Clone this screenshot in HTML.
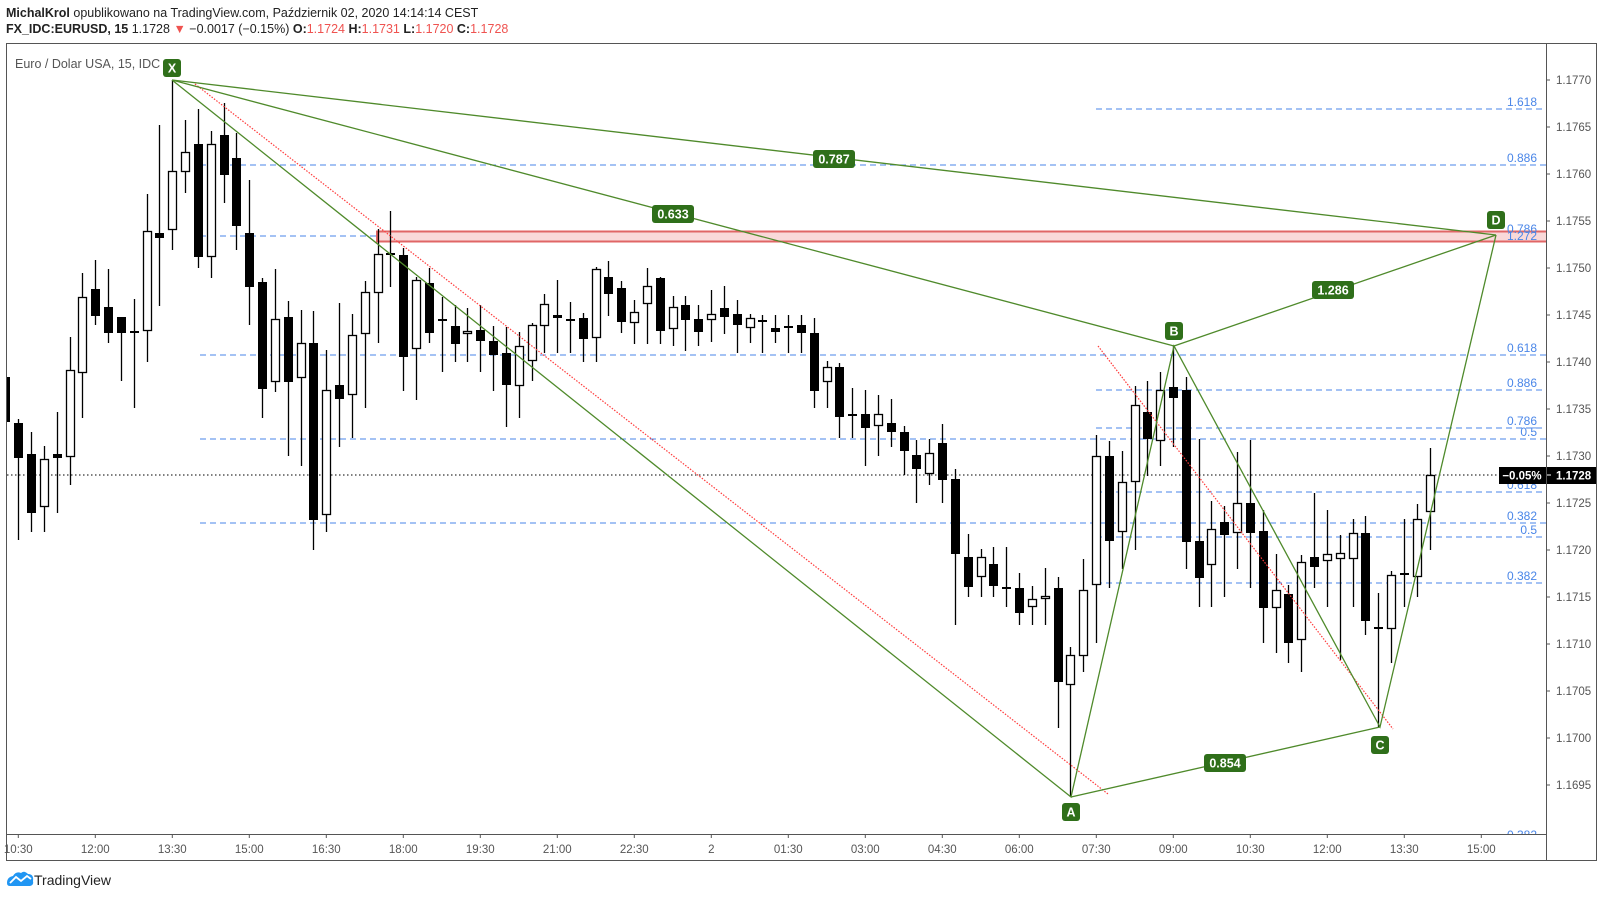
<!DOCTYPE html>
<html><head><meta charset="utf-8"><style>
body{margin:0;background:#fff;width:1603px;height:898px;overflow:hidden;font-family:"Liberation Sans",sans-serif}
svg{position:absolute;left:0;top:0}
</style></head><body>
<svg id="s" width="1603" height="898" viewBox="0 0 1603 898" xmlns="http://www.w3.org/2000/svg" font-family="Liberation Sans, sans-serif">
<defs><clipPath id="cp"><rect x="7" y="44" width="1539" height="790"/></clipPath></defs>
<text x="6" y="17" font-size="12.5" fill="#222"><tspan font-weight="bold">MichalKrol</tspan> opublikowano na TradingView.com, Październik 02, 2020 14:14:14 CEST</text>
<text x="6" y="33" font-size="12.5" fill="#222"><tspan font-weight="bold">FX_IDC:EURUSD, 15</tspan>  1.1728 <tspan fill="#ef5350">▼</tspan> −0.0017 (−0.15%) <tspan font-weight="bold">O:</tspan><tspan fill="#ef5350">1.1724</tspan> <tspan font-weight="bold">H:</tspan><tspan fill="#ef5350">1.1731</tspan> <tspan font-weight="bold">L:</tspan><tspan fill="#ef5350">1.1720</tspan> <tspan font-weight="bold">C:</tspan><tspan fill="#ef5350">1.1728</tspan></text>
<rect x="6.5" y="43.5" width="1590" height="817" fill="none" stroke="#555" stroke-width="1"/>
<line x1="1546.5" y1="43" x2="1546.5" y2="861" stroke="#555"/>
<line x1="6" y1="834.5" x2="1546" y2="834.5" stroke="#555"/>
<text x="15" y="68" font-size="12.5" fill="#555">Euro / Dolar USA, 15, IDC</text>
<g id="axis" font-size="11.5" fill="#555"></g>
<g clip-path="url(#cp)">
<line x1="7" y1="475" x2="1546" y2="475" stroke="#000" stroke-dasharray="1.5,2.5"/>
<g stroke="#4a86e8" stroke-dasharray="6,4" stroke-width="1">
<line x1="1096" y1="109" x2="1546" y2="109"/>
<line x1="200" y1="165" x2="1546" y2="165"/>
<line x1="200" y1="236" x2="1546" y2="236"/>
<line x1="1096" y1="241" x2="1546" y2="241"/>
<line x1="200" y1="355" x2="1546" y2="355"/>
<line x1="1096" y1="390" x2="1546" y2="390"/>
<line x1="1096" y1="428" x2="1546" y2="428"/>
<line x1="200" y1="439" x2="1546" y2="439"/>
<line x1="1096" y1="492" x2="1546" y2="492"/>
<line x1="200" y1="523" x2="1546" y2="523"/>
<line x1="1096" y1="537" x2="1546" y2="537"/>
<line x1="1096" y1="583" x2="1546" y2="583"/>
</g>
<rect x="377" y="231.5" width="1170" height="10" fill="#f9d9d9" stroke="#e06666" stroke-width="2"/>
<g id="candles"></g>
<g stroke="#ff3b3b" stroke-dasharray="1.5,1.5" stroke-width="1.2">
<line x1="195" y1="84" x2="1108" y2="794"/>
<line x1="1098" y1="346" x2="1393" y2="729"/>
</g>
<g stroke="#4f8a2b" stroke-width="1.3" fill="none">
<polyline points="172,80 1071,797 1174,346 1380,727 1496,235"/>
<line x1="172" y1="80" x2="1174" y2="346"/>
<line x1="172" y1="80" x2="1496" y2="235"/>
<line x1="1071" y1="797" x2="1380" y2="727"/>
<line x1="1174" y1="346" x2="1496" y2="235"/>
</g>
<g font-size="12" fill="#4a86e8" text-anchor="end">
<text x="1537" y="106">1.618</text>
<text x="1537" y="162">0.886</text>
<text x="1537" y="233">0.786</text>
<text x="1537" y="240">1.272</text>
<text x="1537" y="352">0.618</text>
<text x="1537" y="387">0.886</text>
<text x="1537" y="425">0.786</text>
<text x="1537" y="436">0.5</text>
<text x="1537" y="489">0.618</text>
<text x="1537" y="520">0.382</text>
<text x="1537" y="534">0.5</text>
<text x="1537" y="580">0.382</text>
<text x="1537" y="839">0.382</text>
</g>
</g>
<g id="lbl" font-size="12.5" font-weight="bold" fill="#fff" text-anchor="middle"></g>
<rect x="1499" y="467" width="47" height="17" fill="#000"/>
<text x="1522" y="479.5" font-size="11.5" fill="#fff" text-anchor="middle" font-weight="bold">−0.05%</text>
<rect x="1547" y="467" width="49" height="17" fill="#000"/>
<line x1="1547" y1="475" x2="1551" y2="475" stroke="#fff"/>
<text x="1556" y="479.5" font-size="11.5" fill="#fff" font-weight="bold">1.1728</text>
<g transform="translate(7,871)">
<path d="M0,12 Q0,6 6,5 Q9,0 14,2 Q17,-1 21,3 Q27,3 26,10 Q27,14 23,15 L3,15 Q0,15 0,12Z" fill="#2196f3"/>
<polyline points="3,12 9,6 14,10 20,5 24,8" fill="none" stroke="#fff" stroke-width="1.8"/>
</g>
<text x="34" y="885" font-size="14" fill="#222">TradingView</text>
</svg>
<script>
var NS="http://www.w3.org/2000/svg";
function el(t,a,p){var e=document.createElementNS(NS,t);for(var k in a)e.setAttribute(k,a[k]);p.appendChild(e);return e;}
var D=[
['b',377,422,370,430],
['b',423,458,419,540],['b',454,513,432,532],['w',459,507,446,532],['b',454,458,412,513],['w',370,457,337,485],
['w',297,373,273,418],['b',289,316,260,325],['b',307,333,269,343],['b',317,333,317,381],['d',331,331,299,408],
['w',231,331,194,362],['b',233,238,125,306],['w',171,230,80,250],['w',152,172,120,193],['b',144,257,109,268],
['w',144,257,131,278],['b',135,175,103,203],['b',158,226,133,250],['b',233,287,180,325],['b',282,389,278,418],
['w',319,382,269,392],['b',317,382,301,456],['w',343,378,310,466],['b',343,520,311,550],['w',390,515,350,532],
['b',385,399,303,447],['w',335,395,314,438],['w',292,334,281,408],['w',254,293,229,343],['d',253,253,211,287],
['b',255,357,248,391],['w',280,349,277,400],['b',283,333,268,343],['d',319,319,297,372],['b',326,344,305,362],
['w',331,334,308,362],['b',330,341,305,372],['b',341,355,326,391],['b',353,385,327,427],['w',346,386,332,418],
['w',325,361,323,381],['w',304,326,294,353],['b',315,318,280,353],['d',319,319,302,353],['b',318,339,313,362],
['w',269,338,267,362],['b',277,294,261,316],['b',288,322,281,333],['w',312,323,300,344],['w',286,304,268,344],
['b',278,331,277,344],['w',307,329,296,346],['b',305,320,296,351],['b',319,332,305,346],['w',314,320,290,342],
['b',308,317,286,334],['b',314,325,300,353],['w',318,328,314,343],['d',320,320,315,353],['b',328,332,315,343],
['d',326,326,315,353],['b',325,333,315,353],['b',333,391,318,408],['w',367,382,361,408],['b',367,417,363,438],
['d',414,414,388,438],['b',414,428,390,466],['w',414,426,395,456],['b',423,432,399,447],['b',432,451,426,475],
['b',455,469,440,503],['w',453,474,439,485],['b',443,480,424,503],['b',479,554,469,625],['b',557,587,534,597],
['w',557,577,549,597],['b',564,586,547,597],['d',587,587,547,607],['b',588,613,573,625],['w',599,607,586,625],
['w',596,599,568,625],['b',588,682,577,728],['w',655,685,647,797],['w',590,656,559,672],['w',456,585,435,643],
['b',456,541,441,588],['w',482,532,451,569],['w',405,482,386,550],['b',412,439,381,476],['w',390,441,372,466],
['b',387,398,346,447],['b',390,542,377,569],['b',541,578,439,607],['w',529,565,501,607],['b',522,535,506,597],
['w',503,533,452,569],['b',503,533,440,588],['b',531,608,510,643],['w',590,608,554,653],['b',594,643,585,663],
['w',562,640,555,672],['b',557,567,493,588],['w',554,561,510,607],['w',553,559,535,660],['w',533,559,519,607],
['b',533,621,516,635],['d',627,629,593,727],['w',575,629,571,663],['d',573,573,519,607],['w',519,577,504,597],
['w',475,512,448,550]
];
var g=document.getElementById('candles');
for(var i=0;i<D.length;i++){
 var c=D[i],x=Math.round(18.3+12.83*(i-1))+0.5;
 el('line',{x1:x,y1:c[3],x2:x,y2:c[4],stroke:'#000','stroke-width':1.3},g);
 var h=Math.max(c[2]-c[1],2);
 if(c[0]=='w') el('rect',{x:x-4,y:c[1]+0.5,width:8,height:h-1,fill:'#fff',stroke:'#000','stroke-width':1.3},g);
 else el('rect',{x:x-4.5,y:c[1],width:9,height:h,fill:'#000'},g);
}
var ax=document.getElementById('axis');
for(var k=0;k<=16;k++){
 var p=1.1770-k*0.0005,y=80+k*47;
 if(y>830)break;
 el('line',{x1:1546,y1:y,x2:1550,y2:y,stroke:'#555'},ax);
 var t=el('text',{x:1556,y:y+4},ax);t.textContent=p.toFixed(4);
}
var T=['10:30','12:00','13:30','15:00','16:30','18:00','19:30','21:00','22:30','2','01:30','03:00','04:30','06:00','07:30','09:00','10:30','12:00','13:30','15:00'];
for(var j=0;j<T.length;j++){
 var x=18.3+77*j;
 el('line',{x1:x,y1:834,x2:x,y2:838,stroke:'#555'},ax);
 var t=el('text',{x:x,y:853,'text-anchor':'middle'},ax);t.textContent=T[j];
}
var L=document.getElementById('lbl');
var LB=[['X',172,68,18],['A',1071,812,18],['B',1174,331,18],['C',1380,745,18],['D',1496,220,18],
['0.787',834,159,42],['0.633',673,214,42],['1.286',1333,290,42],['0.854',1225,763,42]];
LB.forEach(function(b){
 el('rect',{x:b[1]-b[3]/2,y:b[2]-9,width:b[3],height:18,rx:3,fill:'#2f6f1a'},L);
 var t=el('text',{x:b[1],y:b[2]+4.5},L);t.textContent=b[0];
});
</script>
</body></html>
